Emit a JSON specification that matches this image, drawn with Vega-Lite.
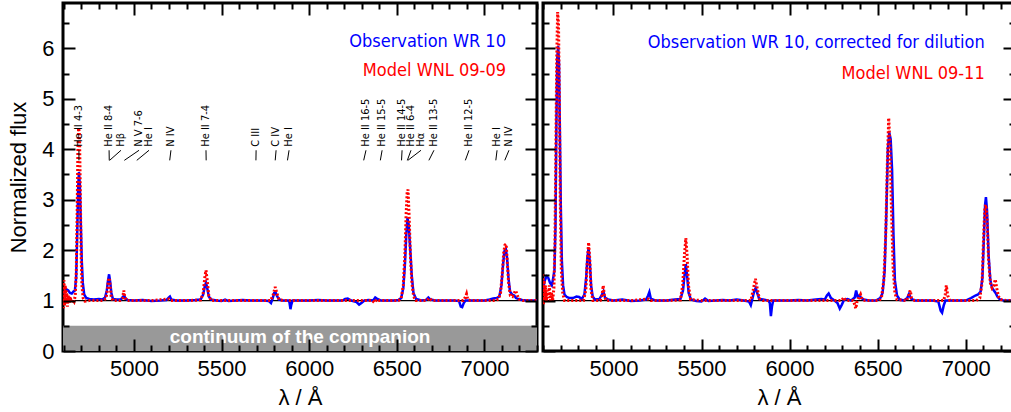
{
 "$schema": "https://vega.github.io/schema/vega-lite/v6.json",
 "padding": {"left": 6, "top": 0, "right": 0, "bottom": 0},
 "spacing": 0,
 "datasets": {
  "obsL": [
   {"w":4595,"f":1.15},{"w":4605,"f":1.18},{"w":4615,"f":1.22},{"w":4625,"f":1.2},{"w":4635,"f":1.15},{"w":4645,"f":1.14},{"w":4655,"f":1.18},{"w":4663,"f":1.2},{"w":4670,"f":1.45},{"w":4676,"f":2.3},{"w":4681,"f":3.2},{"w":4686,"f":3.55},{"w":4691,"f":3.3},{"w":4696,"f":2.6},{"w":4702,"f":1.8},{"w":4708,"f":1.35},{"w":4716,"f":1.12},{"w":4728,"f":1.05},{"w":4745,"f":1.03},{"w":4770,"f":1.02},{"w":4800,"f":1.03},{"w":4820,"f":1.02},{"w":4835,"f":1.06},{"w":4845,"f":1.2},{"w":4852,"f":1.4},{"w":4858,"f":1.52},{"w":4864,"f":1.38},{"w":4871,"f":1.15},{"w":4880,"f":1.03},{"w":4900,"f":1.02},{"w":4925,"f":1.02},{"w":4938,"f":1.08},{"w":4944,"f":1.1},{"w":4952,"f":1.04},{"w":4965,"f":1.01},{"w":5000,"f":1.0},{"w":5050,"f":1.01},{"w":5100,"f":0.99},{"w":5150,"f":1.0},{"w":5185,"f":1.01},{"w":5198,"f":1.06},{"w":5205,"f":1.08},{"w":5213,"f":1.02},{"w":5240,"f":1.0},{"w":5300,"f":1.0},{"w":5350,"f":1.01},{"w":5380,"f":1.02},{"w":5395,"f":1.12},{"w":5404,"f":1.28},{"w":5411,"f":1.35},{"w":5418,"f":1.25},{"w":5427,"f":1.08},{"w":5440,"f":1.02},{"w":5470,"f":1.0},{"w":5500,"f":0.99},{"w":5520,"f":1.02},{"w":5540,"f":0.99},{"w":5580,"f":1.0},{"w":5620,"f":1.01},{"w":5660,"f":1.0},{"w":5700,"f":1.0},{"w":5740,"f":1.0},{"w":5770,"f":0.99},{"w":5782,"f":0.95},{"w":5792,"f":1.05},{"w":5800,"f":1.15},{"w":5807,"f":1.17},{"w":5815,"f":1.1},{"w":5828,"f":1.02},{"w":5850,"f":1.0},{"w":5880,"f":1.0},{"w":5887,"f":0.97},{"w":5893,"f":0.83},{"w":5898,"f":0.92},{"w":5905,"f":1.0},{"w":5940,"f":1.0},{"w":6000,"f":1.0},{"w":6050,"f":1.01},{"w":6100,"f":1.0},{"w":6150,"f":1.0},{"w":6190,"f":1.0},{"w":6205,"f":1.03},{"w":6220,"f":1.04},{"w":6240,"f":1.0},{"w":6270,"f":0.97},{"w":6285,"f":0.92},{"w":6298,"f":0.95},{"w":6315,"f":1.0},{"w":6340,"f":1.01},{"w":6365,"f":1.0},{"w":6377,"f":1.06},{"w":6386,"f":1.04},{"w":6398,"f":1.02},{"w":6410,"f":1.0},{"w":6440,"f":1.0},{"w":6480,"f":1.0},{"w":6510,"f":1.01},{"w":6525,"f":1.05},{"w":6537,"f":1.25},{"w":6546,"f":1.7},{"w":6554,"f":2.3},{"w":6561,"f":2.64},{"w":6568,"f":2.5},{"w":6576,"f":2.05},{"w":6585,"f":1.5},{"w":6595,"f":1.15},{"w":6610,"f":1.03},{"w":6640,"f":1.0},{"w":6665,"f":1.01},{"w":6680,"f":1.06},{"w":6692,"f":1.02},{"w":6720,"f":1.0},{"w":6780,"f":1.0},{"w":6830,"f":1.0},{"w":6855,"f":0.99},{"w":6865,"f":0.88},{"w":6873,"f":0.87},{"w":6882,"f":0.95},{"w":6892,"f":1.0},{"w":6920,"f":1.0},{"w":6960,"f":1.0},{"w":7000,"f":1.0},{"w":7030,"f":1.02},{"w":7050,"f":1.04},{"w":7070,"f":1.05},{"w":7085,"f":1.08},{"w":7097,"f":1.3},{"w":7106,"f":1.7},{"w":7114,"f":1.98},{"w":7122,"f":2.02},{"w":7129,"f":1.85},{"w":7137,"f":1.45},{"w":7146,"f":1.18},{"w":7158,"f":1.12},{"w":7170,"f":1.1},{"w":7180,"f":1.05},{"w":7195,"f":1.03},{"w":7215,"f":1.01},{"w":7240,"f":1.0},{"w":7270,"f":1.0},{"w":7300,"f":1.0}
  ],
  "modL": [
   {"w":4595,"f":1.35},{"w":4598,"f":0.85},{"w":4601,"f":1.4},{"w":4604,"f":0.9},{"w":4608,"f":1.3},{"w":4612,"f":0.95},{"w":4616,"f":1.2},{"w":4620,"f":0.88},{"w":4625,"f":1.1},{"w":4630,"f":0.95},{"w":4636,"f":1.08},{"w":4642,"f":0.97},{"w":4650,"f":1.02},{"w":4658,"f":0.98},{"w":4665,"f":1.1},{"w":4671,"f":1.6},{"w":4676,"f":2.8},{"w":4680,"f":4.0},{"w":4684,"f":4.42},{"w":4689,"f":4.3},{"w":4693,"f":3.4},{"w":4698,"f":2.0},{"w":4703,"f":1.3},{"w":4710,"f":1.05},{"w":4720,"f":0.99},{"w":4745,"f":1.0},{"w":4780,"f":1.0},{"w":4820,"f":1.0},{"w":4840,"f":1.04},{"w":4848,"f":1.2},{"w":4854,"f":1.4},{"w":4859,"f":1.45},{"w":4864,"f":1.3},{"w":4870,"f":1.08},{"w":4880,"f":1.0},{"w":4920,"f":1.0},{"w":4935,"f":1.05},{"w":4942,"f":1.2},{"w":4948,"f":1.06},{"w":4960,"f":1.0},{"w":5000,"f":1.0},{"w":5100,"f":1.0},{"w":5200,"f":1.03},{"w":5210,"f":1.0},{"w":5300,"f":1.0},{"w":5380,"f":1.01},{"w":5395,"f":1.15},{"w":5404,"f":1.45},{"w":5411,"f":1.6},{"w":5418,"f":1.4},{"w":5427,"f":1.1},{"w":5440,"f":1.0},{"w":5550,"f":1.0},{"w":5700,"f":1.0},{"w":5780,"f":1.0},{"w":5795,"f":1.12},{"w":5806,"f":1.27},{"w":5815,"f":1.15},{"w":5828,"f":1.02},{"w":5850,"f":1.0},{"w":5900,"f":1.0},{"w":6000,"f":1.0},{"w":6100,"f":1.0},{"w":6200,"f":1.0},{"w":6300,"f":1.0},{"w":6360,"f":1.0},{"w":6373,"f":0.96},{"w":6385,"f":1.02},{"w":6400,"f":1.0},{"w":6510,"f":1.0},{"w":6525,"f":1.05},{"w":6537,"f":1.3},{"w":6546,"f":1.9},{"w":6553,"f":2.7},{"w":6559,"f":3.15},{"w":6564,"f":3.2},{"w":6570,"f":2.7},{"w":6577,"f":1.95},{"w":6586,"f":1.35},{"w":6596,"f":1.08},{"w":6610,"f":1.0},{"w":6670,"f":1.0},{"w":6685,"f":1.05},{"w":6700,"f":1.0},{"w":6880,"f":1.0},{"w":6893,"f":1.08},{"w":6898,"f":1.13},{"w":6905,"f":1.02},{"w":6920,"f":1.0},{"w":7060,"f":1.0},{"w":7080,"f":1.03},{"w":7092,"f":1.15},{"w":7102,"f":1.55},{"w":7110,"f":1.95},{"w":7117,"f":2.1},{"w":7124,"f":2.12},{"w":7130,"f":1.8},{"w":7138,"f":1.35},{"w":7148,"f":1.1},{"w":7160,"f":1.08},{"w":7170,"f":1.15},{"w":7178,"f":1.2},{"w":7186,"f":1.12},{"w":7196,"f":1.03},{"w":7220,"f":1.0},{"w":7300,"f":1.0}
  ],
  "obsR": [
   {"w":4600,"f":1.22},{"w":4610,"f":1.4},{"w":4620,"f":1.48},{"w":4630,"f":1.45},{"w":4640,"f":1.35},{"w":4650,"f":1.3},{"w":4658,"f":1.45},{"w":4665,"f":1.6},{"w":4671,"f":2.5},{"w":4676,"f":4.5},{"w":4681,"f":5.8},{"w":4686,"f":6.05},{"w":4691,"f":5.7},{"w":4696,"f":4.3},{"w":4701,"f":2.9},{"w":4707,"f":1.8},{"w":4714,"f":1.3},{"w":4722,"f":1.12},{"w":4735,"f":1.07},{"w":4750,"f":1.05},{"w":4770,"f":1.05},{"w":4790,"f":1.08},{"w":4805,"f":1.07},{"w":4820,"f":1.03},{"w":4835,"f":1.12},{"w":4845,"f":1.45},{"w":4852,"f":1.85},{"w":4859,"f":2.05},{"w":4866,"f":1.75},{"w":4873,"f":1.3},{"w":4882,"f":1.08},{"w":4895,"f":1.02},{"w":4920,"f":1.03},{"w":4935,"f":1.12},{"w":4943,"f":1.18},{"w":4952,"f":1.06},{"w":4970,"f":1.02},{"w":5000,"f":1.0},{"w":5050,"f":1.02},{"w":5100,"f":0.99},{"w":5150,"f":1.0},{"w":5185,"f":1.02},{"w":5197,"f":1.1},{"w":5204,"f":1.17},{"w":5212,"f":1.04},{"w":5240,"f":1.0},{"w":5300,"f":1.0},{"w":5350,"f":1.02},{"w":5380,"f":1.03},{"w":5395,"f":1.2},{"w":5404,"f":1.52},{"w":5411,"f":1.72},{"w":5418,"f":1.5},{"w":5427,"f":1.15},{"w":5440,"f":1.02},{"w":5470,"f":0.99},{"w":5500,"f":0.98},{"w":5520,"f":1.04},{"w":5540,"f":0.99},{"w":5580,"f":1.0},{"w":5620,"f":1.01},{"w":5660,"f":1.0},{"w":5700,"f":1.02},{"w":5740,"f":1.0},{"w":5770,"f":0.98},{"w":5780,"f":0.91},{"w":5790,"f":1.05},{"w":5800,"f":1.2},{"w":5808,"f":1.25},{"w":5816,"f":1.15},{"w":5828,"f":1.03},{"w":5850,"f":1.02},{"w":5880,"f":1.0},{"w":5888,"f":0.95},{"w":5894,"f":0.69},{"w":5900,"f":0.88},{"w":5907,"f":1.0},{"w":5940,"f":1.0},{"w":6000,"f":1.0},{"w":6050,"f":1.01},{"w":6100,"f":1.0},{"w":6150,"f":1.02},{"w":6180,"f":1.03},{"w":6200,"f":1.02},{"w":6212,"f":1.1},{"w":6222,"f":1.14},{"w":6235,"f":1.05},{"w":6255,"f":1.0},{"w":6272,"f":0.95},{"w":6285,"f":0.84},{"w":6297,"f":0.92},{"w":6310,"f":1.02},{"w":6330,"f":1.03},{"w":6350,"f":1.0},{"w":6370,"f":1.06},{"w":6378,"f":1.2},{"w":6386,"f":1.08},{"w":6395,"f":1.1},{"w":6405,"f":1.06},{"w":6420,"f":1.02},{"w":6450,"f":1.0},{"w":6490,"f":1.0},{"w":6515,"f":1.05},{"w":6528,"f":1.15},{"w":6540,"f":1.6},{"w":6550,"f":2.8},{"w":6558,"f":4.0},{"w":6566,"f":4.33},{"w":6574,"f":4.2},{"w":6582,"f":3.6},{"w":6590,"f":2.3},{"w":6598,"f":1.4},{"w":6610,"f":1.1},{"w":6625,"f":1.02},{"w":6650,"f":1.0},{"w":6668,"f":1.05},{"w":6678,"f":1.13},{"w":6690,"f":1.04},{"w":6710,"f":1.0},{"w":6760,"f":1.0},{"w":6810,"f":1.0},{"w":6845,"f":0.98},{"w":6858,"f":0.8},{"w":6866,"f":0.76},{"w":6875,"f":0.9},{"w":6885,"f":1.0},{"w":6920,"f":1.0},{"w":6960,"f":1.0},{"w":7000,"f":1.0},{"w":7030,"f":1.05},{"w":7055,"f":1.1},{"w":7070,"f":1.12},{"w":7085,"f":1.18},{"w":7095,"f":1.45},{"w":7104,"f":2.3},{"w":7110,"f":2.9},{"w":7115,"f":3.05},{"w":7121,"f":2.8},{"w":7130,"f":1.9},{"w":7140,"f":1.4},{"w":7150,"f":1.25},{"w":7160,"f":1.2},{"w":7170,"f":1.15},{"w":7180,"f":1.08},{"w":7192,"f":1.03},{"w":7215,"f":1.0},{"w":7240,"f":1.0},{"w":7280,"f":1.0}
  ],
  "modR": [
   {"w":4600,"f":1.52},{"w":4603,"f":0.92},{"w":4606,"f":1.4},{"w":4610,"f":1.0},{"w":4614,"f":1.3},{"w":4619,"f":0.98},{"w":4624,"f":1.2},{"w":4630,"f":1.05},{"w":4636,"f":1.3},{"w":4642,"f":1.0},{"w":4648,"f":1.15},{"w":4655,"f":1.0},{"w":4662,"f":1.25},{"w":4668,"f":2.2},{"w":4673,"f":4.0},{"w":4678,"f":5.8},{"w":4683,"f":6.72},{"w":4688,"f":6.5},{"w":4693,"f":5.0},{"w":4698,"f":3.0},{"w":4704,"f":1.6},{"w":4712,"f":1.15},{"w":4722,"f":1.0},{"w":4760,"f":1.0},{"w":4800,"f":1.0},{"w":4830,"f":1.0},{"w":4843,"f":1.2},{"w":4852,"f":1.8},{"w":4859,"f":2.15},{"w":4866,"f":1.8},{"w":4873,"f":1.2},{"w":4884,"f":1.0},{"w":4925,"f":1.0},{"w":4935,"f":1.1},{"w":4942,"f":1.3},{"w":4949,"f":1.08},{"w":4960,"f":1.0},{"w":5000,"f":1.0},{"w":5100,"f":1.0},{"w":5200,"f":1.03},{"w":5212,"f":1.0},{"w":5300,"f":1.0},{"w":5380,"f":1.01},{"w":5393,"f":1.3},{"w":5403,"f":1.9},{"w":5411,"f":2.24},{"w":5418,"f":1.9},{"w":5426,"f":1.3},{"w":5438,"f":1.02},{"w":5500,"f":1.0},{"w":5600,"f":1.0},{"w":5700,"f":1.0},{"w":5780,"f":1.0},{"w":5793,"f":1.2},{"w":5806,"f":1.43},{"w":5816,"f":1.25},{"w":5828,"f":1.04},{"w":5850,"f":1.0},{"w":5900,"f":1.0},{"w":6000,"f":1.0},{"w":6100,"f":1.0},{"w":6200,"f":1.0},{"w":6295,"f":1.0},{"w":6308,"f":1.06},{"w":6320,"f":1.0},{"w":6360,"f":1.0},{"w":6370,"f":0.92},{"w":6376,"f":0.84},{"w":6383,"f":0.98},{"w":6393,"f":1.05},{"w":6403,"f":1.12},{"w":6412,"f":1.02},{"w":6430,"f":1.0},{"w":6510,"f":1.0},{"w":6522,"f":1.06},{"w":6535,"f":1.4},{"w":6546,"f":2.3},{"w":6555,"f":3.7},{"w":6563,"f":4.62},{"w":6570,"f":4.1},{"w":6578,"f":2.9},{"w":6588,"f":1.65},{"w":6598,"f":1.15},{"w":6610,"f":1.02},{"w":6665,"f":1.0},{"w":6678,"f":1.12},{"w":6685,"f":1.2},{"w":6693,"f":1.05},{"w":6710,"f":1.0},{"w":6875,"f":1.0},{"w":6884,"f":1.12},{"w":6890,"f":1.3},{"w":6898,"f":1.1},{"w":6910,"f":1.0},{"w":7060,"f":1.0},{"w":7080,"f":1.05},{"w":7093,"f":1.35},{"w":7102,"f":2.3},{"w":7109,"f":2.85},{"w":7115,"f":2.9},{"w":7122,"f":2.6},{"w":7130,"f":1.8},{"w":7140,"f":1.35},{"w":7150,"f":1.25},{"w":7160,"f":1.3},{"w":7168,"f":1.42},{"w":7176,"f":1.25},{"w":7186,"f":1.08},{"w":7200,"f":1.02},{"w":7230,"f":1.0},{"w":7280,"f":1.0}
  ],
  "lbl": [
   {"t":"He II 4-3","lx":4686,"tx":4686},
   {"t":"He II 8-4","lx":4858,"tx":4859},
   {"t":"Hβ","lx":4926,"tx":4861},
   {"t":"N V 7-6","lx":5029,"tx":4945},
   {"t":"He I","lx":5086,"tx":5016},
   {"t":"N IV","lx":5211,"tx":5204},
   {"t":"He II 7-4","lx":5411,"tx":5412},
   {"t":"C III","lx":5697,"tx":5696},
   {"t":"C IV","lx":5811,"tx":5806},
   {"t":"He I","lx":5885,"tx":5876},
   {"t":"He II 16-5","lx":6324,"tx":6311},
   {"t":"He II 15-5","lx":6416,"tx":6406},
   {"t":"He II 14-5","lx":6530,"tx":6527},
   {"t":"He II 6-4","lx":6581,"tx":6560},
   {"t":"Hα","lx":6638,"tx":6563},
   {"t":"He II 13-5","lx":6712,"tx":6683},
   {"t":"He II 12-5","lx":6912,"tx":6891},
   {"t":"He I","lx":7072,"tx":7065},
   {"t":"N IV","lx":7140,"tx":7116}
  ],
  "legL": [
   {"x":7123,"y":6.12,"t":"Observation WR 10","c":"#0000ff"},
   {"x":7123,"y":5.56,"t":"Model WNL 09-09","c":"#ff0000"}
  ],
  "legR": [
   {"x":7108,"y":6.11,"t":"Observation WR 10, corrected for dilution","c":"#0000ff"},
   {"x":7108,"y":5.5,"t":"Model WNL 09-11","c":"#ff0000"}
  ],
  "bandL": [{"a":4595,"b":7300,"c":0,"d":0.5}],
  "oneL": [{"a":4595,"b":7300,"y":1}],
  "oneR": [{"a":4600,"b":7280,"y":1}],
  "cont": [{"x":5948,"y":0.27,"t":"continuum of the companion"}]
 },
 "hconcat": [
  {
   "width": 474, "height": 348,
   "resolve": {"axis": {"x": "independent", "y": "independent"}},
   "layer": [
    {"data": {"name": "bandL"}, "mark": {"type": "rect", "color": "#999999"},
     "encoding": {
      "x": {"field": "a", "type": "quantitative", "scale": {"domain": [4595, 7300], "nice": false, "zero": false},
            "axis": {"orient": "top", "values": [5000,5500,6000,6500,7000], "ticks": true, "tickColor": "#000000", "tickWidth": 2, "zindex": 2, "domain": false, "grid": false, "tickSize": 12, "offset": -12, "labels": false, "title": null, "minExtent": 0, "maxExtent": 0}},
      "x2": {"field": "b"},
      "y": {"field": "c", "type": "quantitative", "scale": {"domain": [0, 6.9], "nice": false},
            "axis": {"orient": "right", "values": [0,1,2,3,4,5,6], "ticks": true, "tickColor": "#000000", "tickWidth": 2, "zindex": 2, "domain": false, "grid": false, "tickSize": 12, "offset": -12, "labels": false, "title": null, "minExtent": 0, "maxExtent": 0}},
      "y2": {"field": "d"}}},
    {"data": {"name": "oneL"}, "mark": {"type": "rule", "color": "#000000", "strokeWidth": 1.3},
     "encoding": {
      "x": {"field": "a", "type": "quantitative", "scale": {"domain": [4595, 7300], "nice": false, "zero": false},
            "axis": {"orient": "top", "values": [4600,4700,4800,4900,5100,5200,5300,5400,5600,5700,5800,5900,6100,6200,6300,6400,6600,6700,6800,6900,7100,7200,7300], "ticks": true, "tickColor": "#000000", "tickWidth": 2, "zindex": 2, "domain": false, "grid": false, "tickSize": 6, "offset": -6, "labels": false, "title": null, "minExtent": 0, "maxExtent": 0}},
      "x2": {"field": "b"},
      "y": {"field": "y", "type": "quantitative", "scale": {"domain": [0, 6.9], "nice": false},
            "axis": {"orient": "right", "values": [0.5,1.5,2.5,3.5,4.5,5.5,6.5], "ticks": true, "tickColor": "#000000", "tickWidth": 2, "zindex": 2, "domain": false, "grid": false, "tickSize": 6, "offset": -6, "labels": false, "title": null, "minExtent": 0, "maxExtent": 0}}}},
    {"data": {"name": "obsL"}, "mark": {"type": "line", "color": "#0000ff", "strokeWidth": 2.5, "clip": true},
     "encoding": {
      "x": {"field": "w", "type": "quantitative", "scale": {"domain": [4595, 7300], "nice": false, "zero": false},
            "axis": {"orient": "bottom", "values": [5000,5500,6000,6500,7000], "format": "d", "ticks": true, "tickColor": "#000000", "tickWidth": 2, "zindex": 2, "domain": false, "grid": false, "tickSize": 12, "offset": -12, "labelPadding": 7, "title": "λ / Å", "titlePadding": 8}},
      "y": {"field": "f", "type": "quantitative", "scale": {"domain": [0, 6.9], "nice": false},
            "axis": {"orient": "left", "values": [0,1,2,3,4,5,6], "ticks": true, "tickColor": "#000000", "tickWidth": 2, "zindex": 2, "domain": false, "grid": false, "tickSize": 12, "offset": -12, "labelPadding": 9, "title": "Normalized flux", "titlePadding": 11}}}},
    {"data": {"name": "modL"}, "mark": {"type": "line", "color": "#ff0000", "strokeWidth": 3, "strokeDash": [2, 2], "clip": true},
     "encoding": {
      "x": {"field": "w", "type": "quantitative", "scale": {"domain": [4595, 7300], "nice": false, "zero": false},
            "axis": {"orient": "bottom", "values": [4600,4700,4800,4900,5100,5200,5300,5400,5600,5700,5800,5900,6100,6200,6300,6400,6600,6700,6800,6900,7100,7200,7300], "ticks": true, "tickColor": "#000000", "tickWidth": 2, "zindex": 2, "domain": false, "grid": false, "tickSize": 6, "offset": -6, "labels": false, "title": null, "minExtent": 0, "maxExtent": 0}},
      "y": {"field": "f", "type": "quantitative", "scale": {"domain": [0, 6.9], "nice": false},
            "axis": {"orient": "left", "values": [0.5,1.5,2.5,3.5,4.5,5.5,6.5], "ticks": true, "tickColor": "#000000", "tickWidth": 2, "zindex": 2, "domain": false, "grid": false, "tickSize": 6, "offset": -6, "labels": false, "title": null, "minExtent": 0, "maxExtent": 0}}}},
    {"data": {"name": "lbl"}, "mark": {"type": "rule", "color": "#000000", "strokeWidth": 1},
     "encoding": {
      "x": {"field": "lx", "type": "quantitative", "scale": {"domain": [4595, 7300], "nice": false, "zero": false}, "axis": null},
      "x2": {"field": "tx"},
      "y": {"datum": 3.98, "type": "quantitative", "scale": {"domain": [0, 6.9], "nice": false}, "axis": null},
      "y2": {"datum": 3.78}}},
    {"data": {"name": "lbl"}, "mark": {"type": "text", "angle": 270, "align": "left", "baseline": "middle", "font": "DejaVu Sans Condensed, sans-serif", "fontSize": 11, "color": "#000000"},
     "encoding": {
      "x": {"field": "lx", "type": "quantitative", "scale": {"domain": [4595, 7300], "nice": false, "zero": false}, "axis": null},
      "y": {"datum": 4.05, "type": "quantitative", "scale": {"domain": [0, 6.9], "nice": false}, "axis": null},
      "text": {"field": "t"}}},
    {"data": {"name": "legL"}, "mark": {"type": "text", "align": "right", "baseline": "middle", "font": "DejaVu Sans Condensed, sans-serif", "fontSize": 18},
     "encoding": {
      "x": {"field": "x", "type": "quantitative", "scale": {"domain": [4595, 7300], "nice": false, "zero": false}, "axis": null},
      "y": {"field": "y", "type": "quantitative", "scale": {"domain": [0, 6.9], "nice": false}, "axis": null},
      "text": {"field": "t"},
      "color": {"field": "c", "type": "nominal", "scale": null}}},
    {"data": {"name": "cont"}, "mark": {"type": "text", "align": "center", "baseline": "middle", "font": "Liberation Sans", "fontWeight": "bold", "fontSize": 19, "color": "#ffffff"},
     "encoding": {
      "x": {"field": "x", "type": "quantitative", "scale": {"domain": [4595, 7300], "nice": false, "zero": false}, "axis": null},
      "y": {"field": "y", "type": "quantitative", "scale": {"domain": [0, 6.9], "nice": false}, "axis": null},
      "text": {"field": "t"}}}
   ]
  },
  {
   "width": 472, "height": 348,
   "resolve": {"axis": {"x": "independent", "y": "independent"}},
   "layer": [
    {"data": {"name": "oneR"}, "mark": {"type": "rule", "color": "#000000", "strokeWidth": 1.3},
     "encoding": {
      "x": {"field": "a", "type": "quantitative", "scale": {"domain": [4600, 7280], "nice": false, "zero": false},
            "axis": {"orient": "top", "values": [5000,5500,6000,6500,7000], "ticks": true, "tickColor": "#000000", "tickWidth": 2, "zindex": 2, "domain": false, "grid": false, "tickSize": 12, "offset": -12, "labels": false, "title": null, "minExtent": 0, "maxExtent": 0}},
      "x2": {"field": "b"},
      "y": {"field": "y", "type": "quantitative", "scale": {"domain": [0, 6.9], "nice": false},
            "axis": {"orient": "right", "values": [0,1,2,3,4,5,6], "ticks": true, "tickColor": "#000000", "tickWidth": 2, "zindex": 2, "domain": false, "grid": false, "tickSize": 12, "offset": -12, "labels": false, "title": null, "minExtent": 0, "maxExtent": 0}}}},
    {"data": {"name": "legR"}, "mark": {"type": "text", "align": "right", "baseline": "middle", "font": "DejaVu Sans Condensed, sans-serif", "fontSize": 18},
     "encoding": {
      "x": {"field": "x", "type": "quantitative", "scale": {"domain": [4600, 7280], "nice": false, "zero": false},
            "axis": {"orient": "top", "values": [4600,4700,4800,4900,5100,5200,5300,5400,5600,5700,5800,5900,6100,6200,6300,6400,6600,6700,6800,6900,7100,7200], "ticks": true, "tickColor": "#000000", "tickWidth": 2, "zindex": 2, "domain": false, "grid": false, "tickSize": 6, "offset": -6, "labels": false, "title": null, "minExtent": 0, "maxExtent": 0}},
      "y": {"field": "y", "type": "quantitative", "scale": {"domain": [0, 6.9], "nice": false},
            "axis": {"orient": "right", "values": [0.5,1.5,2.5,3.5,4.5,5.5,6.5], "ticks": true, "tickColor": "#000000", "tickWidth": 2, "zindex": 2, "domain": false, "grid": false, "tickSize": 6, "offset": -6, "labels": false, "title": null, "minExtent": 0, "maxExtent": 0}},
      "text": {"field": "t"},
      "color": {"field": "c", "type": "nominal", "scale": null}}},
    {"data": {"name": "obsR"}, "mark": {"type": "line", "color": "#0000ff", "strokeWidth": 2.5, "clip": true},
     "encoding": {
      "x": {"field": "w", "type": "quantitative", "scale": {"domain": [4600, 7280], "nice": false, "zero": false},
            "axis": {"orient": "bottom", "values": [5000,5500,6000,6500,7000], "format": "d", "ticks": true, "tickColor": "#000000", "tickWidth": 2, "zindex": 2, "domain": false, "grid": false, "tickSize": 12, "offset": -12, "labelPadding": 7, "title": "λ / Å", "titlePadding": 8}},
      "y": {"field": "f", "type": "quantitative", "scale": {"domain": [0, 6.9], "nice": false},
            "axis": {"orient": "left", "values": [0,1,2,3,4,5,6], "ticks": true, "tickColor": "#000000", "tickWidth": 2, "zindex": 2, "domain": false, "grid": false, "tickSize": 12, "offset": -12, "labels": false, "title": null, "minExtent": 0, "maxExtent": 0}}}},
    {"data": {"name": "modR"}, "mark": {"type": "line", "color": "#ff0000", "strokeWidth": 3, "strokeDash": [2, 2], "clip": true},
     "encoding": {
      "x": {"field": "w", "type": "quantitative", "scale": {"domain": [4600, 7280], "nice": false, "zero": false},
            "axis": {"orient": "bottom", "values": [4600,4700,4800,4900,5100,5200,5300,5400,5600,5700,5800,5900,6100,6200,6300,6400,6600,6700,6800,6900,7100,7200], "ticks": true, "tickColor": "#000000", "tickWidth": 2, "zindex": 2, "domain": false, "grid": false, "tickSize": 6, "offset": -6, "labels": false, "title": null, "minExtent": 0, "maxExtent": 0}},
      "y": {"field": "f", "type": "quantitative", "scale": {"domain": [0, 6.9], "nice": false},
            "axis": {"orient": "left", "values": [0.5,1.5,2.5,3.5,4.5,5.5,6.5], "ticks": true, "tickColor": "#000000", "tickWidth": 2, "zindex": 2, "domain": false, "grid": false, "tickSize": 6, "offset": -6, "labels": false, "title": null, "minExtent": 0, "maxExtent": 0}}}}
   ]
  }
 ],
 "config": {
  "view": {"stroke": "#000000", "strokeWidth": 3},
  "axis": {"domain": false, "grid": false, "labelFont": "Liberation Sans", "labelFontSize": 22, "labelColor": "#000000", "titleFont": "Liberation Sans", "titleFontSize": 22, "titleFontWeight": "normal", "titleColor": "#000000"}
 }
}
